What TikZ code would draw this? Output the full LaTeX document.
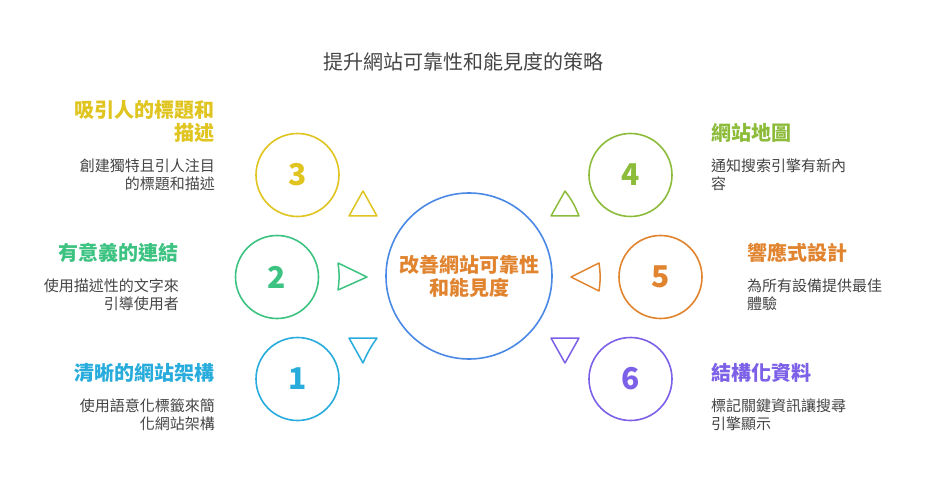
\documentclass[tikz,border=0pt]{standalone}
\usepackage{fontspec}
\setmainfont{Noto Sans CJK TC}
\definecolor{cyel}{HTML}{E0C41F}
\definecolor{cgrn}{HTML}{3DC381}
\definecolor{cblu}{HTML}{27ACDC}
\definecolor{clim}{HTML}{8DBC3B}
\definecolor{corg}{HTML}{E1842F}
\definecolor{cpur}{HTML}{7C60E7}
\definecolor{ccen}{HTML}{4A88E6}
\definecolor{ctxt}{HTML}{454545}
\tikzset{
  ring/.style={draw=#1, line width=1.6pt, circle, inner sep=0pt},
  num/.style={text=#1, font=\fontsize{30}{30}\selectfont\bfseries, inner sep=0pt},
  tri/.style={draw=#1, line width=1.5pt, line join=round},
  lbl/.style={text=#1, font=\fontsize{20}{23}\selectfont\bfseries, inner sep=0pt},
  dsc/.style={text=ctxt, font=\fontsize{15}{18}\selectfont, inner sep=0pt},
}
\begin{document}
\begin{tikzpicture}[x=1pt,y=-1pt]
\useasboundingbox (0,0) rectangle (926,494);
\fill[white] (0,0) rectangle (926,494);
\node[text=ctxt, font=\fontsize{20}{24}\selectfont, inner sep=0pt] (title) at (463,61.5) {提升網站可靠性和能見度的策略};
% center
\node[ring=ccen, minimum size=166pt] (c0) at (469,276) {};
\node[text=corg, font=\fontsize{20}{23.5}\selectfont\bfseries, align=center, inner sep=0pt] (ct) at (469,276.5) {改善網站可靠性\\和能見度};
% circles
\node[ring=cyel, minimum size=83pt] (c3) at (297.5,175) {};
\node[num=cyel] (n3) at (c3) {3};
\node[ring=cgrn, minimum size=83pt] (c2) at (277,277) {};
\node[num=cgrn] (n2) at (c2) {2};
\node[ring=cblu, minimum size=83pt] (c1) at (297.5,379) {};
\node[num=cblu] (n1) at (c1) {1};
\node[ring=clim, minimum size=83pt] (c4) at (630.5,175) {};
\node[num=clim] (n4) at (c4) {4};
\node[ring=corg, minimum size=83pt] (c5) at (660.5,277) {};
\node[num=corg] (n5) at (c5) {5};
\node[ring=cpur, minimum size=83pt] (c6) at (630.5,379) {};
\node[num=cpur] (n6) at (c6) {6};
% triangles
\draw[tri=cyel] (363,191) -- (377,216) -- (349,216) -- cycle;
\draw[tri=cgrn] (367,277) -- (338,290) to[bend right=8] (338,263) -- cycle;
\draw[tri=cblu] (363,363) to[bend left=6] (377,338) -- (349,338) -- cycle;
\draw[tri=clim] (565,191) to[bend left=8] (579,216) -- (551,216) -- cycle;
\draw[tri=corg] (571,277) -- (599,263) to[bend left=8] (599,291) -- cycle;
\draw[tri=cpur] (565,363) -- (579,338) -- (551,338) -- cycle;
% left labels
\node[lbl=cyel, align=right, anchor=east] (l3) at (215,121.5) {吸引人的標題和\\描述};
\node[dsc, align=right, anchor=east] (d3) at (215,175) {創建獨特且引人注目\\的標題和描述};
\node[lbl=cgrn, align=right, anchor=east] (l2) at (179,252.5) {有意義的連結};
\node[dsc, align=right, anchor=east] (d2) at (179,295) {使用描述性的文字來\\引導使用者};
\node[lbl=cblu, align=right, anchor=east] (l1) at (215,372.5) {清晰的網站架構};
\node[dsc, align=right, anchor=east] (d1) at (215,415) {使用語意化標籤來簡\\化網站架構};
% right labels
\node[lbl=clim, align=left, anchor=west] (l4) at (711,132.5) {網站地圖};
\node[dsc, align=left, anchor=west] (d4) at (711,175) {通知搜索引擎有新內\\容};
\node[lbl=corg, align=left, anchor=west] (l5) at (747,252.5) {響應式設計};
\node[dsc, align=left, anchor=west] (d5) at (747,295) {為所有設備提供最佳\\體驗};
\node[lbl=cpur, align=left, anchor=west] (l6) at (711,372.5) {結構化資料};
\node[dsc, align=left, anchor=west] (d6) at (711,415) {標記關鍵資訊讓搜尋\\引擎顯示};
\end{tikzpicture}
\end{document}
